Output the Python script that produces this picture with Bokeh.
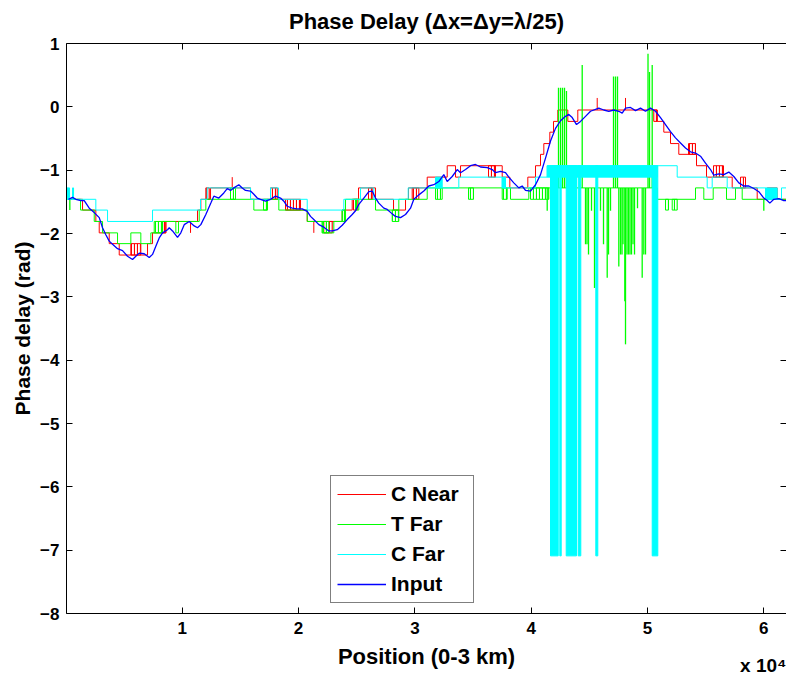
from bokeh.plotting import figure
from bokeh.models import Range1d, LinearAxis, FixedTicker, Legend, LegendItem, Title
from bokeh.embed import file_html
from bokeh.resources import INLINE

# ---------------- data (positions in m, phase in rad) ----------------
input_x = [215, 559, 843, 1273, 1565, 1995, 2425, 2855, 3139, 3423, 3715, 3999, 4429, 4859, 5289, 5719,
           6003, 6295, 6725, 7155, 7439, 7723, 8015, 8299, 8729, 8875, 9159, 9589, 9873, 10165, 10595,
           11025, 11309, 11593, 12023, 12453, 12711, 13141, 13571, 13863, 14147, 14431, 14861, 15153,
           15437, 15867, 16151, 16443, 16727, 17157, 17587, 18017, 18447, 18731, 19023, 19453, 19883,
           20313, 20743, 21027, 21311, 21741, 22171, 22601, 22893, 23323, 23753, 24183, 24613, 24897,
           25181, 25611, 26041, 26333, 26617, 26901, 27331, 27623, 28053, 28337, 28767, 29197, 29627,
           29911, 30341, 30771, 31201, 31631, 32061, 32491, 32783, 33213, 33643, 33927, 34357, 34787,
           35217, 35647, 36223, 36653, 36937, 37367, 37797, 38081, 38511, 38941, 39233, 39517, 39947,
           40377, 40807, 41237, 41667, 42097, 42527, 42957, 43241, 43533, 43903, 44247, 44677, 45107,
           45821, 46251, 46681, 47111, 47541, 47833, 48117, 48547, 48977, 49407, 49837, 50267, 50697,
           51127, 51557, 51987, 52417, 52847, 53277, 53707, 54137, 54567, 54997, 55427, 55711, 56141,
           56571, 57001, 57431, 57861, 58291, 58721, 59151, 59581, 60011, 60303, 60527, 60871, 61301,
           61731, 61963]
input_y = [-1.46, -1.43, -1.46, -1.48, -1.48, -1.60, -1.67, -1.75, -1.91, -2.02, -2.12, -2.17, -2.24, -2.27,
           -2.36, -2.41, -2.36, -2.31, -2.32, -2.38, -2.33, -2.20, -2.07, -1.99, -1.94, -1.91, -1.96, -2.06,
           -1.99, -1.86, -1.81, -1.88, -1.91, -1.86, -1.70, -1.52, -1.41, -1.44, -1.36, -1.29, -1.32, -1.28,
           -1.23, -1.28, -1.32, -1.33, -1.38, -1.44, -1.46, -1.49, -1.46, -1.41, -1.44, -1.49, -1.57, -1.60,
           -1.61, -1.61, -1.65, -1.73, -1.78, -1.86, -1.90, -1.96, -1.96, -1.94, -1.87, -1.78, -1.70, -1.64,
           -1.54, -1.44, -1.34, -1.33, -1.44, -1.52, -1.60, -1.62, -1.69, -1.73, -1.75, -1.70, -1.60, -1.46,
           -1.39, -1.33, -1.25, -1.23, -1.18, -1.07, -1.18, -1.10, -0.99, -1.04, -0.99, -0.93, -0.91, -0.95,
           -0.96, -0.99, -1.04, -1.02, -1.04, -1.11, -1.20, -1.28, -1.25, -1.32, -1.33, -1.23, -1.07, -0.81,
           -0.54, -0.34, -0.22, -0.15, -0.12, -0.17, -0.28, -0.23, -0.15, -0.07, -0.02, -0.05, -0.07, -0.05,
           -0.07, -0.10, -0.02, -0.01, -0.06, -0.02, -0.07, -0.02, -0.07, -0.17, -0.28, -0.39, -0.49, -0.57,
           -0.65, -0.71, -0.73, -0.78, -0.89, -0.99, -1.08, -1.06, -1.07, -1.03, -1.10, -1.20, -1.25, -1.25,
           -1.29, -1.34, -1.44, -1.48, -1.52, -1.46, -1.45, -1.48, -1.48]

cnear_x = [40, 1419, 2563, 2855, 3715, 4575, 7009, 7439, 8583, 11309, 11593, 12427, 15867, 18877, 20743,
           23753, 24613, 25155, 26617, 28165, 29197, 29455, 31063, 32783, 33497, 33927, 37513, 38167,
           39715, 40377, 40807, 41091, 41607, 41925, 42295, 43155, 44015, 50843, 51411, 51987, 52701,
           54223, 55083, 57293, 59443, 61963]
cnear_y = [-1.46, -1.63, -1.81, -1.99, -2.16, -2.34, -2.16, -1.99, -1.81, -1.63, -1.46, -1.28, -1.46, -1.63,
           -1.81, -1.63, -1.46, -1.28, -1.46, -1.63, -1.46, -1.28, -1.11, -0.93, -1.11, -0.93, -1.11, -1.28,
           -1.11, -0.93, -0.75, -0.58, -0.40, -0.23, -0.05, -0.23, -0.05, -0.23, -0.40, -0.58, -0.75, -0.93,
           -1.11, -1.28, -1.46, -1.46]
cnear_band_x0 = [5573, 8299, 12023, 17587, 18877, 22171, 24725, 26015, 29773, 36335, 50551, 53535, 55685, 58007, 60303]
cnear_band_x1 = [6433, 8583, 12315, 18163, 20167, 22893, 25043, 26333, 30341, 36937, 50843, 54137, 56545, 58437, 61163]
cnear_band_lo = [-2.34, -1.99, -1.46, -1.46, -1.63, -1.99, -1.63, -1.46, -1.46, -1.11, -0.23, -0.75, -1.11, -1.28, -1.46]
cnear_band_hi = [-2.16, -1.81, -1.28, -1.28, -1.46, -1.81, -1.46, -1.28, -1.28, -0.93, -0.05, -0.58, -0.93, -1.11, -1.28]
cnear_spike_x = [10707, 21311, 14293, 45683, 48117]
cnear_spike_from = [-1.81, -1.81, -1.28, -0.05, -0.05]
cnear_spike_to = [-1.99, -1.99, -1.11, 0.14, 0.14]

tfar_x = [40, 1247, 2425, 3139, 4429, 5573, 6433, 7293, 8299, 9443, 9675, 11455, 12023, 16151, 17303, 18301,
          20743, 22033, 23031, 23753, 24037, 26617, 28621, 31063, 38227, 39801, 50843, 54137, 54851, 55659,
          56803, 57577, 58153, 61963]
tfar_y = [-1.46, -1.63, -1.81, -1.99, -2.16, -1.99, -2.16, -1.99, -1.81, -1.99, -1.81, -1.63, -1.46, -1.63,
          -1.46, -1.63, -1.81, -1.99, -1.81, -1.63, -1.46, -1.63, -1.46, -1.28, -1.46, -1.28, -1.46, -1.28,
          -1.46, -1.28, -1.46, -1.28, -1.46, -1.46]
tfar_band_x0 = [7585, 14147, 16985, 22033, 23753, 24897, 28053, 31777, 34615, 37513, 39947, 51557, 52133]
tfar_band_x1 = [8299, 14577, 17329, 22601, 24037, 25181, 28621, 32353, 35045, 37943, 41521, 51815, 52562]
tfar_band_lo = [-1.99, -1.46, -1.63, -1.99, -1.81, -1.63, -1.81, -1.46, -1.46, -1.46, -1.46, -1.63, -1.63]
tfar_band_hi = [-1.81, -1.28, -1.46, -1.81, -1.63, -1.46, -1.63, -1.28, -1.28, -1.28, -1.28, -1.46, -1.46]
tfar_spike_x = [327, 42355, 42530, 42700, 42870, 43040, 44393, 47085, 47257, 47429, 50052, 50181, 50413,
                41383, 43387, 44677, 44806, 44935, 45193, 45451, 45623, 45967, 46225, 46543, 46655, 46827,
                47541, 47687, 47816, 47902, 48057, 48117, 48246, 48375, 48504, 48633, 48762, 48891, 49149,
                49552, 49691, 49837, 50525, 60011]
tfar_spike_from = [-1.46, -1.28, -1.28, -1.28, -1.28, -1.28, -1.28, -1.28, -1.28, -1.28, -1.28, -1.28, -1.28,
                   -1.28, -1.28, -1.28, -1.28, -1.28, -1.28, -1.28, -1.28, -1.28, -1.28, -1.28, -1.28, -1.28,
                   -1.28, -1.28, -1.28, -1.28, -1.28, -1.28, -1.28, -1.28, -1.28, -1.28, -1.28, -1.28, -1.28,
                   -1.28, -1.28, -1.28, -1.28, -1.46]
tfar_spike_to = [-1.63, 0.30, 0.30, 0.30, 0.30, 0.25, 0.66, 0.48, 0.48, 0.48, 0.84, 0.55, 0.66,
                 -1.64, -1.64, -2.17, -2.17, -2.33, -1.64, -2.86, -2.33, -1.64, -2.17, -2.70, -2.33, -1.64,
                 -2.52, -2.33, -2.33, -2.17, -3.07, -3.75, -2.33, -2.33, -2.33, -2.33, -2.17, -2.33, -1.60,
                 -2.70, -2.33, -2.33, -1.64, -1.64]

cfar_x = [40, 2563, 3569, 7439, 11567, 12143, 15867, 17587, 18275, 20743, 23891, 25327, 26471, 29429, 33781,
          37513, 40377, 41383, 52563, 55143, 55573, 56863, 60157, 61533, 61963]
cfar_y = [-1.46, -1.63, -1.81, -1.63, -1.46, -1.28, -1.46, -1.28, -1.46, -1.63, -1.46, -1.28, -1.46, -1.28,
          -1.11, -1.28, -1.11, -0.93, -1.11, -1.28, -1.11, -1.28, -1.46, -1.28, -1.28]
cfar_band_x0 = [40, 559, 31777, 37513, 41383, 60157]
cfar_band_x1 = [301, 645, 32353, 37797, 50843, 61163]
cfar_band_lo = [-1.46, -1.46, -1.28, -1.28, -1.11, -1.46]
cfar_band_hi = [-1.28, -1.28, -1.11, -1.11, -0.93, -1.28]
cfar_drop_x0 = [41667, 42467, 43017, 44049, 45563, 50413]
cfar_drop_x1 = [42329, 42587, 43903, 44272, 45735, 50895]
cfar_drop_lo = [-7.09, -7.09, -7.09, -7.09, -7.09, -7.09]
cfar_drop_hi = [-0.93, -0.93, -0.93, -0.93, -0.93, -0.93]

x_ticks = [10000, 20000, 30000, 40000, 50000, 60000]
x_tick_labels = ["1", "2", "3", "4", "5", "6"]
y_ticks = [-8, -7, -6, -5, -4, -3, -2, -1, 0, 1]

RED, GREEN, CYAN, BLUE = "#ff0000", "#00ff00", "#00ffff", "#0000ff"
FONT = "Liberation Sans"

p = figure(width=786, height=677, output_backend="svg", toolbar_location=None,
           x_range=Range1d(40, 61963), y_range=Range1d(-8, 1),
           min_border_left=66, min_border_right=0, min_border_top=42, min_border_bottom=64)
p.outline_line_color = None
p.xgrid.visible = False
p.ygrid.visible = False
p.background_fill_color = "white"
p.border_fill_color = "white"

p.title.text = "Phase Delay (\u0394x=\u0394y=\u03bb/25)"
p.title.align = "center"
p.title.vertical_align = "top"
p.title.text_font = FONT
p.title.text_font_style = "bold"
p.title.text_font_size = "22px"
p.title.text_color = "black"
p.title.standoff = 16


def style_axis(ax, labels=True):
    ax.axis_line_color = "black"
    ax.axis_line_width = 1
    ax.major_tick_in = 6
    ax.major_tick_out = 0
    ax.major_tick_line_color = "black"
    ax.minor_tick_line_color = None
    ax.major_label_text_font = FONT
    ax.major_label_text_font_style = "bold"
    ax.major_label_text_color = "black"
    ax.axis_label_text_color = "black"
    if labels:
        ax.major_label_text_font_size = "17px"
    else:
        ax.major_label_text_font_size = "0px"
        ax.major_label_standoff = 0


xa = p.xaxis[0]
xa.ticker = FixedTicker(ticks=x_ticks)
xa.major_label_overrides = {t: s for t, s in zip(x_ticks, x_tick_labels)}
style_axis(xa)
xa.major_label_standoff = 8
xa.axis_label = "Position (0-3 km)"
xa.axis_label_text_font = FONT
xa.axis_label_text_font_style = "bold"
xa.axis_label_text_font_size = "22px"
xa.axis_label_standoff = 7

ya = p.yaxis[0]
ya.ticker = FixedTicker(ticks=y_ticks)
style_axis(ya)
ya.major_label_standoff = 7
ya.axis_label = "Phase delay (rad)"
ya.axis_label_text_font = FONT
ya.axis_label_text_font_style = "bold"
ya.axis_label_text_font_size = "21px"
ya.axis_label_standoff = 3

top = LinearAxis(ticker=FixedTicker(ticks=x_ticks))
style_axis(top, labels=False)
p.add_layout(top, "above")

right = LinearAxis(ticker=FixedTicker(ticks=y_ticks))
style_axis(right, labels=False)
right.axis_line_color = None
p.add_layout(right, "right")

# exponent of the x axis, as MATLAB prints it under the right end of the axis
exp_title = Title(text="x 10\u2074", align="right", vertical_align="top", text_font=FONT,
                  text_font_style="bold", text_font_size="19px", text_color="black")
try:
    exp_title.standoff = -34
except Exception:
    exp_title.standoff = 0
p.add_layout(exp_title, "below")

HATCH = dict(hatch_pattern="|", hatch_scale=3, hatch_weight=1.2, fill_alpha=0)

# C Near
r_red = p.step(cnear_x, cnear_y, mode="after", line_color=RED, line_width=1)
p.quad(left=cnear_band_x0, right=cnear_band_x1, bottom=cnear_band_lo, top=cnear_band_hi,
       hatch_color=RED, line_color=RED, line_width=1, **HATCH)
p.segment(x0=cnear_spike_x, y0=cnear_spike_from, x1=cnear_spike_x, y1=cnear_spike_to,
          line_color=RED, line_width=1)

# T Far
r_green = p.step(tfar_x, tfar_y, mode="after", line_color=GREEN, line_width=1)
p.quad(left=tfar_band_x0, right=tfar_band_x1, bottom=tfar_band_lo, top=tfar_band_hi,
       hatch_color=GREEN, line_color=GREEN, line_width=1, **HATCH)
p.segment(x0=tfar_spike_x, y0=tfar_spike_from, x1=tfar_spike_x, y1=tfar_spike_to,
          line_color=GREEN, line_width=1.3)

# C Far
r_cyan = p.step(cfar_x, cfar_y, mode="after", line_color=CYAN, line_width=1)
p.quad(left=cfar_band_x0, right=cfar_band_x1, bottom=cfar_band_lo, top=cfar_band_hi,
       fill_color=CYAN, line_color=CYAN, line_width=1)
p.quad(left=cfar_drop_x0, right=cfar_drop_x1, bottom=cfar_drop_lo, top=cfar_drop_hi,
       fill_color=CYAN, line_color=CYAN, line_width=1)

# Input
r_blue = p.line(input_x, input_y, line_color=BLUE, line_width=1.3)

legend = Legend(items=[LegendItem(label="C Near", renderers=[r_red]),
                       LegendItem(label="T Far", renderers=[r_green]),
                       LegendItem(label="C Far", renderers=[r_cyan]),
                       LegendItem(label="Input", renderers=[r_blue])],
                location=(264, 10))
legend.label_text_font = FONT
legend.label_text_font_style = "bold"
legend.label_text_font_size = "21px"
legend.label_text_color = "black"
legend.glyph_width = 49
legend.glyph_height = 24
legend.label_height = 24
legend.label_width = 76
legend.spacing = 6
legend.padding = 6
legend.margin = 0
legend.label_standoff = 5
legend.border_line_color = "black"
legend.border_line_width = 1
legend.background_fill_color = "white"
legend.background_fill_alpha = 1
p.add_layout(legend)

open("out.html", "w").write(file_html(p, INLINE))
